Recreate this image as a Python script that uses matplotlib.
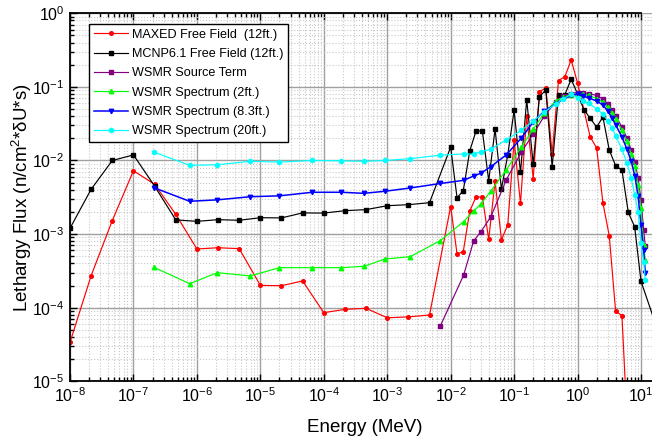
import matplotlib
matplotlib.use("Agg")
import matplotlib.pyplot as plt
from matplotlib.ticker import LogLocator, NullFormatter
import numpy as np

plt.rcParams['font.family'] = ['Liberation Sans', 'DejaVu Sans']
plt.rcParams['mathtext.fontset'] = 'custom'
plt.rcParams['mathtext.rm'] = 'Liberation Sans'
plt.rcParams['mathtext.it'] = 'Liberation Sans:italic'
plt.rcParams['mathtext.bf'] = 'Liberation Sans:bold'

# energy bins (MeV)
e_low = [1e-8, 2.15e-8, 4.64e-8, 1e-7, 2.15e-7, 4.64e-7, 1e-6, 2.15e-6, 4.64e-6,
         1e-5, 2.15e-5, 4.64e-5, 1e-4, 2.15e-4, 4.64e-4, 1e-3, 2.15e-3, 4.64e-3]
e_fine = [0.01, 0.0126, 0.0158, 0.02, 0.0251, 0.0316, 0.0398, 0.0501, 0.0631, 0.0794,
          0.1, 0.126, 0.158, 0.2, 0.251, 0.316, 0.398, 0.501, 0.631, 0.794,
          1.0, 1.26, 1.58, 2.0, 2.51, 3.16, 3.98, 5.01, 6.31, 7.94, 10.0]
e_maxed = e_low + e_fine[:21] + [1.58, 2.0, 2.51, 3.16, 3.98, 5.01, 6.31]
e_mcnp = e_low + e_fine + [19.95]
e_wsmr = [2.1e-7, 7.7e-7, 2.1e-6, 6.9e-6, 2.0e-5, 6.6e-5, 1.9e-4, 4.3e-4, 9.2e-4, 2.3e-3,
          6.9e-3, 0.016, 0.023, 0.030, 0.043, 0.075, 0.13, 0.20, 0.30, 0.45,
          0.6, 0.8, 1.0, 1.2, 1.5, 2.0, 2.5, 3.0, 3.5, 4.0,
          5.0, 6.0, 7.0, 8.0, 9.0, 10.0, 11.0, 11.7]
e_source = e_wsmr[10:]

# lethargy flux (n/cm^2*dU*s)
maxed = [3.39e-5, 2.72e-4, 1.53e-3, 7.26e-3, 4.75e-3, 1.86e-3, 6.28e-4, 6.53e-4, 6.34e-4,
         2.01e-4, 1.99e-4, 2.31e-4, 8.55e-5, 9.5e-5, 9.8e-5, 7.3e-5, 7.5e-5, 7.96e-5,
         2.37e-3, 5.37e-4, 5.77e-4, 2.06e-3, 3.19e-3, 3.19e-3, 8.45e-4, 5.24e-3, 8.4e-4, 1.33e-3,
         1.87e-2, 2.62e-3, 4.03e-2, 5.68e-3, 8.61e-2, 9.66e-2, 1.24e-2, 0.122, 0.138, 0.232,
         0.113, 2.10e-2, 1.48e-2, 2.65e-3, 9.5e-4, 9.0e-5, 7.8e-5, 1.35e-6]
mcnp = [1.2e-3, 4.06e-3, 1.0e-2, 1.19e-2, 4.5e-3, 1.56e-3, 1.49e-3, 1.57e-3, 1.54e-3,
        1.67e-3, 1.66e-3, 1.94e-3, 1.93e-3, 2.08e-3, 2.15e-3, 2.43e-3, 2.51e-3, 2.67e-3,
        1.52e-2, 3.12e-3, 3.89e-3, 1.35e-2, 2.52e-2, 2.52e-2, 5.3e-3, 2.68e-2, 4.1e-3, 1.19e-2,
        4.78e-2, 6.9e-3, 6.64e-2, 9.0e-3, 7.36e-2, 9.08e-2, 8.2e-3, 7.88e-2, 7.85e-2, 0.127,
        8.0e-2, 4.92e-2, 3.74e-2, 2.85e-2, 3.9e-2, 1.39e-2, 8.5e-3, 7.4e-3, 1.97e-3, 1.26e-3,
        2.29e-4, 4.0e-5]
source = [5.69e-5, 2.77e-4, 8.05e-4, 1.08e-3, 1.72e-3, 5.43e-3, 1.30e-2, 2.29e-2, 4.03e-2,
          6.24e-2, 7.52e-2, 8.13e-2, 8.39e-2, 8.39e-2, 8.13e-2, 7.64e-2, 6.85e-2, 5.86e-2,
          4.86e-2, 4.03e-2, 2.85e-2, 2.02e-2, 1.39e-2, 9.55e-3, 5.78e-3, 2.90e-3, 1.14e-3, 6.90e-4]
spec_2ft = [3.54e-4, 2.12e-4, 2.99e-4, 2.70e-4, 3.5e-4, 3.5e-4, 3.5e-4, 3.65e-4, 4.59e-4, 4.93e-4,
            8.18e-4, 1.48e-3, 2.06e-3, 2.56e-3, 3.85e-3, 7.43e-3, 1.52e-2, 2.68e-2, 4.42e-2, 6.43e-2,
            7.29e-2, 7.88e-2, 8.0e-2, 8.0e-2, 7.64e-2, 6.95e-2, 6.24e-2, 5.33e-2, 4.42e-2, 3.66e-2,
            2.60e-2, 1.84e-2, 1.23e-2, 8.42e-3, 4.65e-3, 2.26e-3, 7.11e-4, 4.45e-4]
spec_8ft = [4.27e-3, 2.79e-3, 2.92e-3, 3.22e-3, 3.31e-3, 3.70e-3, 3.70e-3, 3.58e-3, 3.82e-3, 4.23e-3,
            4.87e-3, 5.38e-3, 6.15e-3, 6.72e-3, 8.24e-3, 1.19e-2, 2.02e-2, 3.33e-2, 4.71e-2, 5.86e-2,
            6.85e-2, 7.64e-2, 8.0e-2, 7.52e-2, 7.07e-2, 6.43e-2, 5.68e-2, 4.71e-2, 3.78e-2, 3.04e-2,
            2.09e-2, 1.43e-2, 9.85e-3, 6.15e-3, 3.29e-3, 1.33e-3, 6.08e-4, 2.96e-4]
spec_20ft = [1.30e-2, 8.6e-3, 8.75e-3, 9.75e-3, 9.5e-3, 1.0e-2, 9.9e-3, 9.75e-3, 1.0e-2, 1.06e-2,
             1.18e-2, 1.23e-2, 1.22e-2, 1.32e-2, 1.42e-2, 1.90e-2, 2.57e-2, 3.44e-2, 4.56e-2, 5.86e-2,
             6.85e-2, 8.0e-2, 7.07e-2, 6.43e-2, 6.04e-2, 5.01e-2, 4.28e-2, 3.44e-2, 2.77e-2, 2.15e-2,
             1.43e-2, 9.25e-3, 5.78e-3, 3.40e-3, 2.0e-3, 7.57e-4, 4.18e-4, 2.38e-4]

fig = plt.figure(figsize=(6.52, 4.4), dpi=100)
# axes run a little past the right edge of the figure
ax = fig.add_axes([0.1074, 0.1334, 0.9049, 0.8364])

ax.plot(e_maxed, maxed, color='#ff0000', marker='o', ms=2.6, lw=0.85, label='MAXED Free Field  (12ft.)')
ax.plot(e_mcnp, mcnp, color='black', marker='s', ms=2.4, lw=0.85, label='MCNP6.1 Free Field (12ft.)')
ax.plot(e_source, source, color='#800080', marker='s', ms=2.4, lw=0.85, label='WSMR Source Term')
ax.plot(e_wsmr, spec_2ft, color='#00ff00', marker='^', ms=3.2, lw=0.85, label='WSMR Spectrum (2ft.)')
ax.plot(e_wsmr, spec_8ft, color='#0000ff', marker='v', ms=3.2, lw=1.1, label='WSMR Spectrum (8.3ft.)')
ax.plot(e_wsmr, spec_20ft, color='#00ffff', marker='h', ms=3.2, lw=0.85, label='WSMR Spectrum (20ft.)')

ax.set_xscale('log')
ax.set_yscale('log')
ax.set_xlim(1e-8, 10 ** 1.3)
ax.set_ylim(1e-5, 1)

ax.xaxis.set_major_locator(LogLocator(base=10, numticks=100))
ax.xaxis.set_minor_locator(LogLocator(base=10, subs=np.arange(2, 10), numticks=100))
ax.yaxis.set_major_locator(LogLocator(base=10, numticks=100))
ax.yaxis.set_minor_locator(LogLocator(base=10, subs=np.arange(2, 10), numticks=100))
ax.xaxis.set_minor_formatter(NullFormatter())
ax.yaxis.set_minor_formatter(NullFormatter())

ax.grid(True, which='major', color='#a0a0a0', lw=1.0, ls='-')
ax.grid(True, which='minor', color='#c8c8c8', lw=0.8, ls=':')
ax.set_axisbelow(True)

ax.tick_params(which='both', direction='in', top=True, right=True, labelsize=11.5, width=1.0)
ax.tick_params(which='major', length=5)
ax.tick_params(which='minor', length=3)
ax.tick_params(axis='y', pad=4)
for side in ax.spines.values():
    side.set_linewidth(1.3)
ax.spines['top'].set_bounds(1e-8, 10)

ax.set_xlabel('Energy (MeV)', fontsize=13.5, labelpad=10)
ax.set_ylabel('Lethargy Flux (n/cm$^2$*δU*s)', fontsize=13.5, labelpad=-1)

leg = ax.legend(loc='upper left', bbox_to_anchor=(0.0327, 0.970), borderaxespad=0,
                fontsize=9.1, frameon=True, fancybox=False, framealpha=1,
                edgecolor='black', handlelength=2.7, handletextpad=0.3,
                labelspacing=0.58, borderpad=0.35, numpoints=1)
leg.get_frame().set_linewidth(1.0)

fig.savefig('out.png', dpi=100)
